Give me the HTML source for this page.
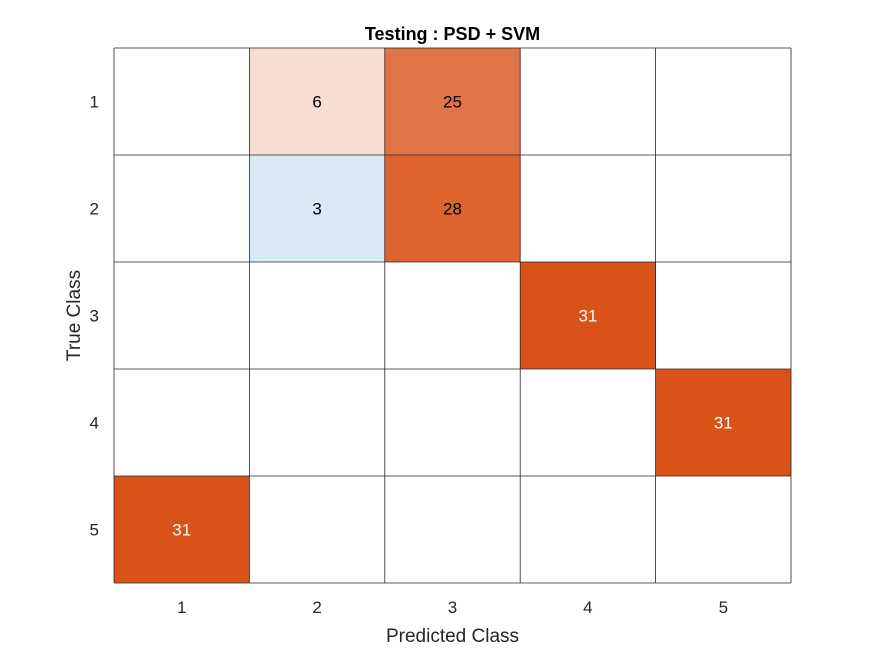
<!DOCTYPE html>
<html><head><meta charset="utf-8"><style>
body{margin:0;background:#fff;}
svg{display:block;font-family:"Liberation Sans",sans-serif;}
</style></head><body>
<svg id="chart" width="875" height="656"></svg>
<script>
const classes = ["1","2","3","4","5"];
const trueIdx = [0,0,1,1,2,3,4];
const predIdx = [1,2,1,2,3,4,0];
const counts = [6,25,3,28,31,31,31];
const maxCount = 31;

const svg = document.getElementById('chart');
const NS = 'http://www.w3.org/2000/svg';
const L = 114, T = 48, R = 791, B = 583;
const cw = (R - L) / classes.length, ch = (B - T) / classes.length;
const xPos = i => L + i * cw;
const yPos = i => T + i * ch;
function mk(tag, attrs, txt) {
  const e = document.createElementNS(NS, tag);
  for (const k in attrs) e.setAttribute(k, attrs[k]);
  if (txt !== undefined) e.textContent = txt;
  svg.appendChild(e);
  return e;
}
const bg = mk('rect', {x: L, y: T, width: R - L, height: B - T, fill: '#fff'});



for (let k = 0; k < counts.length; k++) {
  const r = trueIdx[k], c = predIdx[k];
  const a = counts[k] / maxCount;
  const base = r === c ? [0, 114, 189] : [217, 83, 25];
  const aa = r === c ? Math.max(a, 0.15) : a;
  const col = base.map(v => Math.round(255 - (255 - v) * aa));
  const cell = mk('rect', {x: xPos(c), y: yPos(r), width: cw, height: ch, fill: `rgb(${col.join(',')})`});
  
  
  const t = mk('text', {x: xPos(c) + cw / 2, y: yPos(r) + ch / 2 + 6, 'text-anchor': 'middle', 'font-size': 17, fill: a > 0.95 ? '#fff' : '#000'}, counts[k]);
  
  
}
for (let i = 0; i <= classes.length; i++) {
  mk('line', {x1: xPos(i), y1: T, x2: xPos(i), y2: B, stroke: '#262626', 'stroke-width': 0.8});
  mk('line', {x1: L, y1: yPos(i), x2: R, y2: yPos(i), stroke: '#262626', 'stroke-width': 0.8});
}
classes.forEach((c, i) => {
  const tx = mk('text', {x: xPos(i) + cw / 2, y: 613, 'text-anchor': 'middle', 'font-size': 17, fill: '#262626'}, c);
  
  
  const ty = mk('text', {x: 99, y: yPos(i) + ch / 2 + 6, 'text-anchor': 'end', 'font-size': 17, fill: '#262626'}, c);
  
  
});
const title = mk('text', {x: (L + R) / 2, y: 40, 'text-anchor': 'middle', 'font-size': 18, 'font-weight': 'bold', fill: '#000'}, 'Testing : PSD + SVM');


const xt = mk('text', {x: (L + R) / 2, y: 642, 'text-anchor': 'middle', 'font-size': 19, fill: '#262626'}, 'Predicted Class');


const yt = mk('text', {x: 80, y: (T + B) / 2, 'text-anchor': 'middle', 'font-size': 19, fill: '#262626', transform: `rotate(-90 80 ${(T + B) / 2})`}, 'True Class');


</script>
</body></html>
